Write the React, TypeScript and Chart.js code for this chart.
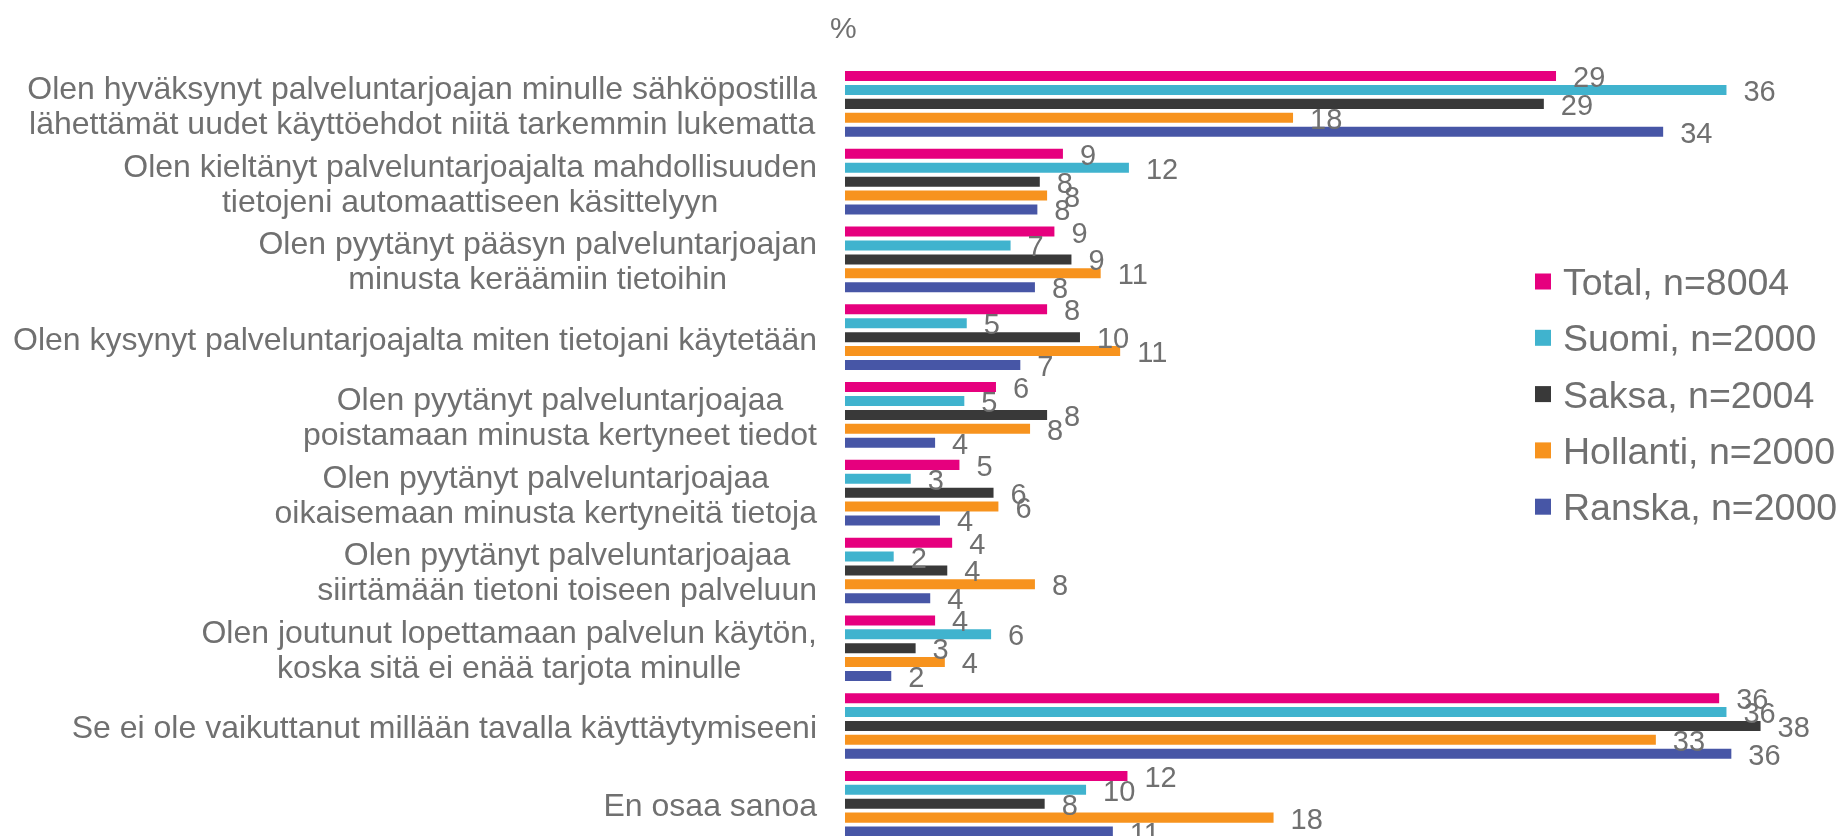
import React, { useEffect, useRef } from "react";
import { Chart, registerables } from "chart.js";

Chart.register(...registerables);

const categories: (string | string[])[] = [
  ["Olen hyväksynyt palveluntarjoajan minulle sähköpostilla", "lähettämät uudet käyttöehdot niitä tarkemmin lukematta"],
  ["Olen kieltänyt palveluntarjoajalta mahdollisuuden", "tietojeni automaattiseen käsittelyyn"],
  ["Olen pyytänyt pääsyn palveluntarjoajan", "minusta keräämiin tietoihin"],
  "Olen kysynyt palveluntarjoajalta miten tietojani käytetään",
  ["Olen pyytänyt palveluntarjoajaa", "poistamaan minusta kertyneet tiedot"],
  ["Olen pyytänyt palveluntarjoajaa", "oikaisemaan minusta kertyneitä tietoja"],
  ["Olen pyytänyt palveluntarjoajaa", "siirtämään tietoni toiseen palveluun"],
  ["Olen joutunut lopettamaan palvelun käytön,", "koska sitä ei enää tarjota minulle"],
  "Se ei ole vaikuttanut millään tavalla käyttäytymiseeni",
  "En osaa sanoa",
];

const seriesNames = ["Total, n=8004", "Suomi, n=2000", "Saksa, n=2004", "Hollanti, n=2000", "Ranska, n=2000"];

const total = [29.2, 8.95, 8.6, 8.3, 6.2, 4.7, 4.4, 3.7, 35.9, 11.6];
const suomi = [36.2, 11.66, 6.8, 5.0, 4.9, 2.7, 2.0, 6.0, 36.2, 9.9];
const saksa = [28.7, 8.0, 9.3, 9.65, 8.3, 6.1, 4.2, 2.9, 37.6, 8.2];
const hollanti = [18.4, 8.3, 10.5, 11.3, 7.6, 6.3, 7.8, 4.1, 33.3, 17.6];
const ranska = [33.6, 7.9, 7.8, 7.2, 3.7, 3.9, 3.5, 1.9, 36.4, 11.0];

const seriesColors = ["#E6007E", "#40B3CE", "#393939", "#F7931E", "#4756A6"];

const TEXT = "#707070";
const FONT = '"Liberation Sans", Arial, Helvetica, sans-serif';
const CAT_FONT = 32;
const CAT_LH = 35;
const VAL_FONT = 29;
const LEG_FONT = 37.5;

const catLabelPlugin = {
  id: "catLabels",
  afterDraw(chart: any) {
    const ctx = chart.ctx;
    const y = chart.scales.y;
    ctx.save();
    ctx.font = `${CAT_FONT}px ${FONT}`;
    ctx.fillStyle = TEXT;
    ctx.textBaseline = "alphabetic";
    ctx.textAlign = "center";
    const right = chart.chartArea.left - 28;
    categories.forEach((lab, i) => {
      const lines = Array.isArray(lab) ? lab : [lab];
      const cy = y.getPixelForTick(i);
      const bw = Math.max(...lines.map((l) => ctx.measureText(l).width));
      const cx = right - bw / 2;
      lines.forEach((l, k) => {
        const ly = cy + (k - (lines.length - 1) / 2) * CAT_LH + 1;
        ctx.fillText(l, cx, ly + 0.358 * CAT_FONT);
      });
    });
    // percent sign
    ctx.font = `30px ${FONT}`;
    ctx.textAlign = "left";
    ctx.fillText("%", 830, 38);
    ctx.restore();
  },
};

const valueLabelPlugin = {
  id: "valueLabels",
  afterDatasetsDraw(chart: any) {
    const ctx = chart.ctx;
    ctx.save();
    ctx.font = `${VAL_FONT}px ${FONT}`;
    ctx.fillStyle = TEXT;
    ctx.textAlign = "left";
    ctx.textBaseline = "alphabetic";
    chart.data.datasets.forEach((ds: any, di: number) => {
      const meta = chart.getDatasetMeta(di);
      meta.data.forEach((el: any, i: number) => {
        const v = ds.data[i];
        ctx.fillText(String(Math.round(v)), el.x + 17, el.y + 11);
      });
    });
    ctx.restore();
  },
};

const legendPlugin = {
  id: "customLegend",
  afterDraw(chart: any) {
    const ctx = chart.ctx;
    ctx.save();
    ctx.font = `${LEG_FONT}px ${FONT}`;
    ctx.textAlign = "left";
    ctx.textBaseline = "alphabetic";
    chart.data.datasets.forEach((ds: any, i: number) => {
      const cy = 281.5 + i * 56.3;
      ctx.fillStyle = ds.backgroundColor;
      ctx.fillRect(1535, cy - 8, 16, 16);
      ctx.fillStyle = TEXT;
      ctx.fillText(ds.label, 1563, cy + 0.358 * LEG_FONT);
    });
    ctx.restore();
  },
};

export default function App() {
  const ref = useRef<HTMLCanvasElement | null>(null);
  useEffect(() => {
    if (!ref.current) return;
    const seriesData = [total, suomi, saksa, hollanti, ranska];
    const chart = new Chart(ref.current, {
      type: "bar",
      data: {
        labels: categories.map((c) => (Array.isArray(c) ? c.join(" ") : c)),
        datasets: seriesNames.map((name, i) => ({
          label: name,
          data: seriesData[i],
          backgroundColor: seriesColors[i],
          borderWidth: 0,
          categoryPercentage: 0.894,
          barPercentage: 0.72,
        })),
      },
      options: {
        indexAxis: "y",
        animation: false,
        responsive: false,
        layout: { padding: { left: 0, right: 18, top: 65, bottom: 17.4 } },
        plugins: {
          legend: { display: false },
          tooltip: { enabled: false },
          title: { display: false },
        },
        scales: {
          x: {
            display: false,
            min: 0,
            max: 40,
          },
          y: {
            display: true,
            grid: { display: false, drawTicks: false },
            border: { display: false },
            ticks: { display: false },
            afterFit: (s: any) => {
              s.width = 845;
            },
          },
        },
      },
      plugins: [catLabelPlugin, valueLabelPlugin, legendPlugin],
    } as any);
    return () => chart.destroy();
  }, []);

  return (
    <div
      style={{
        position: "fixed",
        left: 0,
        top: 0,
        width: 1837,
        height: 836,
        overflow: "hidden",
        background: "#ffffff",
      }}
    >
      <canvas ref={ref} width={1837} height={860} style={{ width: 1837, height: 860, display: "block" }} />
    </div>
  );
}
